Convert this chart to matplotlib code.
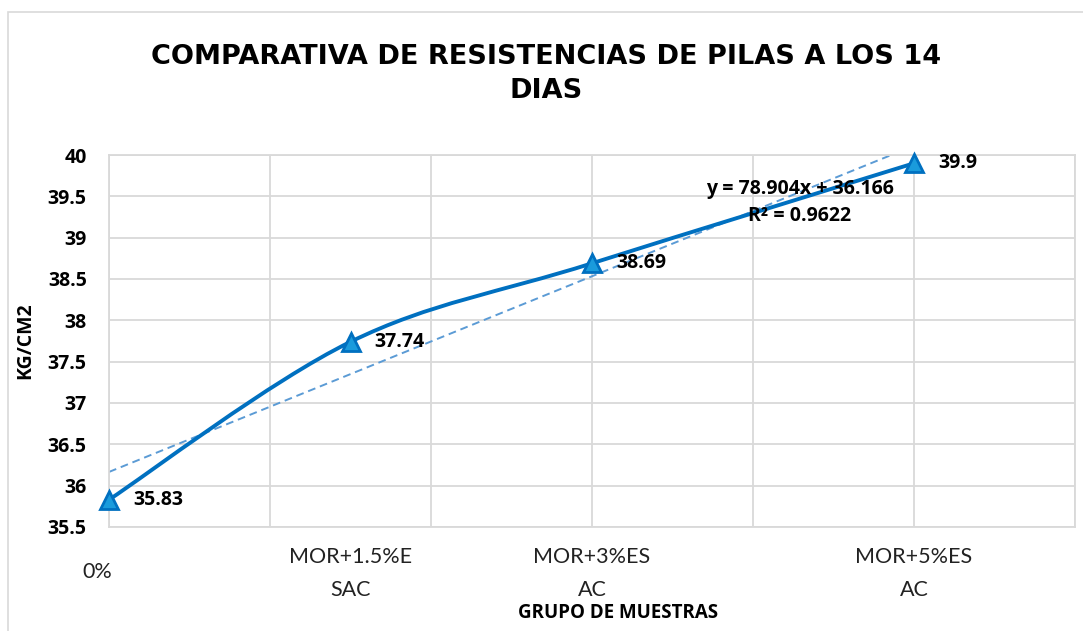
import numpy as np
import matplotlib
matplotlib.use('Agg')
import matplotlib.pyplot as plt
from matplotlib.path import Path
from matplotlib.patches import PathPatch, Rectangle

plt.rcParams['font.family'] = ['Lato', 'DejaVu Sans']
BOLD = ['Open Sans', 'DejaVu Sans']

# data
x_vals = [0.0, 0.015, 0.03, 0.05]
y_vals = [35.83, 37.74, 38.69, 39.9]
x_labels = ['0%', 'MOR+1.5%E\nSAC', 'MOR+3%ES\nAC', 'MOR+5%ES\nAC']
title = 'COMPARATIVA DE RESISTENCIAS DE PILAS A LOS 14\nDIAS'

line_col = '#0070C0'
mark_col = '#1A9BDC'
trend_col = '#5B9BD5'
grid_col = '#D9D9D9'

fig = plt.figure(figsize=(10.83, 6.31), dpi=100)
ax = fig.add_axes([109/1083, 1 - 527/631, 966/1083, 372/631])

# outer chart border
fig.patches.append(Rectangle((8/1083, -0.1), 1.2, 1 - 12/631 + 0.1, transform=fig.transFigure,
                             fill=False, edgecolor=grid_col, lw=1.2))

ax.set_xlim(0, 0.06)
ax.set_ylim(35.5, 40)
ax.set_xticks(np.arange(0, 0.061, 0.01))
ax.set_yticks(np.arange(35.5, 40.01, 0.5))
ax.grid(True, color=grid_col, lw=1.3)
ax.set_axisbelow(True)
for s in ax.spines.values():
    s.set_color(grid_col)
    s.set_linewidth(1.3)

# y tick labels
ax.set_yticklabels(['%g' % v for v in np.arange(35.5, 40.01, 0.5)],
                   fontsize=14, fontweight='bold', family=BOLD)
ax.tick_params(axis='y', length=0, pad=16)
# x tick labels at data points only
ax.tick_params(axis='x', length=0, labelbottom=False)
for xv, lab in zip(x_vals, x_labels):
    if '\n' in lab:
        off = (0, -20)
    else:
        off = (-12, -35)
    ax.annotate(lab, (xv, 35.5), xytext=off, textcoords='offset pixels',
                ha='center', va='top', fontsize=15.5, linespacing=1.8, color='#222222')

# smoothed line (Catmull-Rom style bezier, as Excel)
pts = np.column_stack([x_vals, y_vals])
verts = [tuple(pts[0])]
codes = [Path.MOVETO]
n = len(pts)
for i in range(n - 1):
    p0 = pts[max(i - 1, 0)]
    p1 = pts[i]
    p2 = pts[i + 1]
    p3 = pts[min(i + 2, n - 1)]
    c1 = p1 + (p2 - p0) / 6
    c2 = p2 - (p3 - p1) / 6
    verts += [tuple(c1), tuple(c2), tuple(p2)]
    codes += [Path.CURVE4] * 3
ax.add_patch(PathPatch(Path(verts, codes), fill=False, edgecolor=line_col, lw=2.8, zorder=3))

# trendline
k, b = np.polyfit(x_vals, y_vals, 1)
xt = np.array([0, x_vals[-1]])
ax.plot(xt, k * xt + b, ls=(0, (4, 2.5)), color=trend_col, lw=1.4, zorder=2)
ss_res = np.sum((np.array(y_vals) - (k * np.array(x_vals) + b)) ** 2)
ss_tot = np.sum((np.array(y_vals) - np.mean(y_vals)) ** 2)
r2 = 1 - ss_res / ss_tot
ax.text(0.04292, 39.59, 'y = %.3fx + %.3f' % (k, b), ha='center', va='center',
        fontsize=14, fontweight='bold', family=BOLD, zorder=4)
ax.text(0.04292, 39.26, 'R² = %.4f' % r2, ha='center', va='center',
        fontsize=14, fontweight='bold', family=BOLD, zorder=4)

ax.plot(x_vals, y_vals, ls='none', marker='^', ms=13, mfc=mark_col, mec=line_col,
        mew=2, zorder=5, clip_on=False)

for xv, yv in zip(x_vals, y_vals):
    ax.annotate('%g' % yv, (xv, yv), xytext=(24, 0), textcoords='offset pixels',
                ha='left', va='center', fontsize=14, fontweight='bold', family=BOLD, zorder=6)

fig.text(546/1083, 1 - 74/631, title, ha='center', va='center', fontsize=19.5,
         fontweight='bold', family=['DejaVu Sans'], linespacing=1.4)
fig.text(25/1083, 1 - 341/631, 'KG/CM2', rotation=90, ha='center', va='center',
         fontsize=14, fontweight='bold', family=BOLD)
fig.text(618/1083, 1 - 613/631, 'GRUPO DE MUESTRAS', ha='center', va='center',
         fontsize=13.5, fontweight='bold', family=BOLD)

fig.savefig('out.png', dpi=100)
